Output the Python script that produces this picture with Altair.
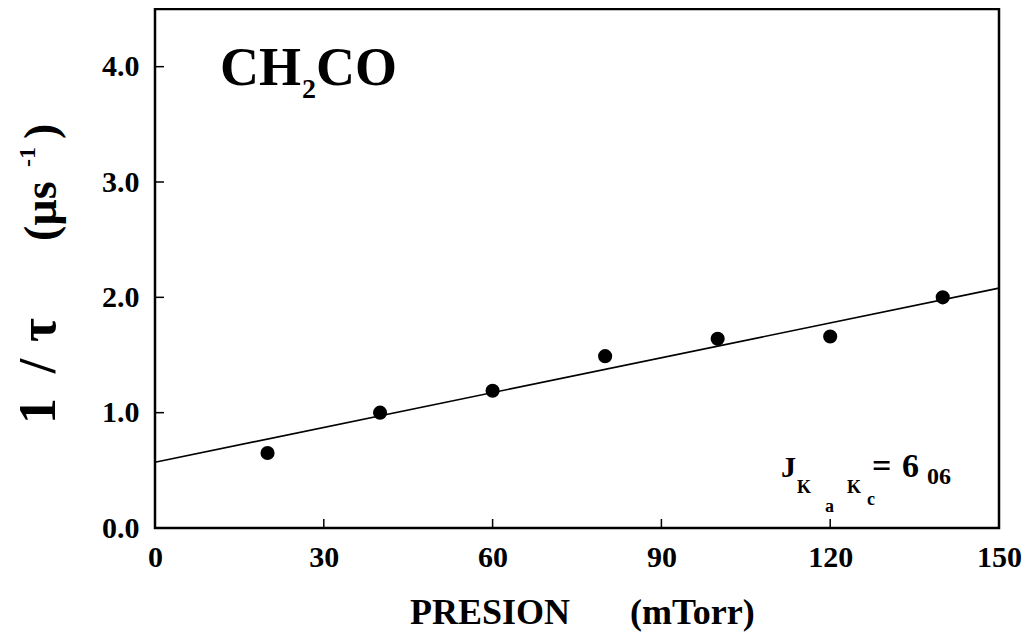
import altair as alt
import pandas as pd

# ---- data ----
pressure = [20, 40, 60, 80, 100, 120, 140]
inv_tau = [0.65, 1.00, 1.19, 1.49, 1.64, 1.66, 2.00]
fit_x = [0, 150]
fit_y = [0.57, 2.08]
x_tick_values = [0, 30, 60, 90, 120, 150]
y_tick_values = [0.0, 1.0, 2.0, 3.0, 4.0]
x_inner_ticks = [30, 60, 90, 120]
y_inner_ticks = [1.0, 2.0, 3.0, 4.0]

W, H = 844, 519
FONT = "Liberation Serif"

points_df = pd.DataFrame({"p": pressure, "r": inv_tau})
fit_df = pd.DataFrame({"p": fit_x, "r": fit_y})

xs = alt.Scale(domain=[0, 150], nice=False, zero=False)
ys = alt.Scale(domain=[0, 4.5], nice=False, zero=False)

x_axis = alt.Axis(values=x_tick_values, format="d", tickSize=0, domain=False, grid=False,
                  labelFont=FONT, labelFontSize=30, labelFontWeight="bold", labelColor="black",
                  labelPadding=14, labelFlush=False, labelOverlap=False, title=None)
y_axis = alt.Axis(values=y_tick_values, format=".1f", tickSize=0, domain=False, grid=False,
                  labelFont=FONT, labelFontSize=30, labelFontWeight="bold", labelColor="black",
                  labelPadding=16, labelFlush=False, labelOverlap=False, title=None)

points = alt.Chart(points_df).mark_circle(color="black", opacity=1, size=200).encode(
    x=alt.X("p:Q", scale=xs, axis=x_axis),
    y=alt.Y("r:Q", scale=ys, axis=y_axis),
)

fit = alt.Chart(fit_df).mark_line(color="black", strokeWidth=1.6).encode(
    x=alt.X("p:Q", scale=xs),
    y=alt.Y("r:Q", scale=ys),
)

xticks = alt.Chart(pd.DataFrame({"p": x_inner_ticks})).mark_rule(color="black", strokeWidth=1.5).encode(
    x=alt.X("p:Q", scale=xs), y=alt.value(H), y2=alt.value(H - 9)
)
yticks = alt.Chart(pd.DataFrame({"r": y_inner_ticks})).mark_rule(color="black", strokeWidth=1.5).encode(
    y=alt.Y("r:Q", scale=ys), x=alt.value(0), x2=alt.value(9)
)


def label(text, x, y, size, angle=0, align="left", weight="bold"):
    kw = dict(text=text, font=FONT, fontSize=size, fontWeight=weight, color="black",
              align=align, baseline="alphabetic")
    if angle:
        kw["angle"] = angle
    return alt.Chart(pd.DataFrame({"k": [0]})).mark_text(**kw).encode(
        x=alt.value(x), y=alt.value(y)
    )


texts = [
    # CH2CO
    label("CH", 65, 76, 54),
    label("2", 147, 89, 28),
    label("CO", 161, 76, 54),
    # J_{Ka Kc} = 6_06
    label("J", 626, 468, 30),
    label("K", 642, 484, 18),
    label("a", 670, 503, 18),
    label("K", 692, 484, 18),
    label("c", 712, 496, 18),
    label("=", 717, 468, 34),
    label("6", 747, 468, 34),
    label("06", 772, 475, 24),
    # x title
    label("PRESION", 255, 615, 36),
    label("(mTorr)", 475, 615, 36),
    # y title (rotated)
    label("1", -100, 402, 52, angle=270, align="center"),
    label("/", -100, 357, 52, angle=270, align="center"),
    label("τ", -100, 321, 52, angle=270, align="center"),
    label("(µs", -99, 232, 46, angle=270),
    label("-1", -120, 158, 24, angle=270),
    label(")", -99, 130, 46, angle=270),
]

chart = alt.layer(fit, points, xticks, yticks, *texts).properties(
    width=W, height=H,
    background="white",
    autosize=alt.AutoSizeParams(type="none"),
    padding={"left": 147, "top": 1, "right": 27, "bottom": 104},
).configure_view(stroke="black", strokeWidth=2.5)

chart.save("out.html", embed_options={"renderer": "svg", "actions": False})
